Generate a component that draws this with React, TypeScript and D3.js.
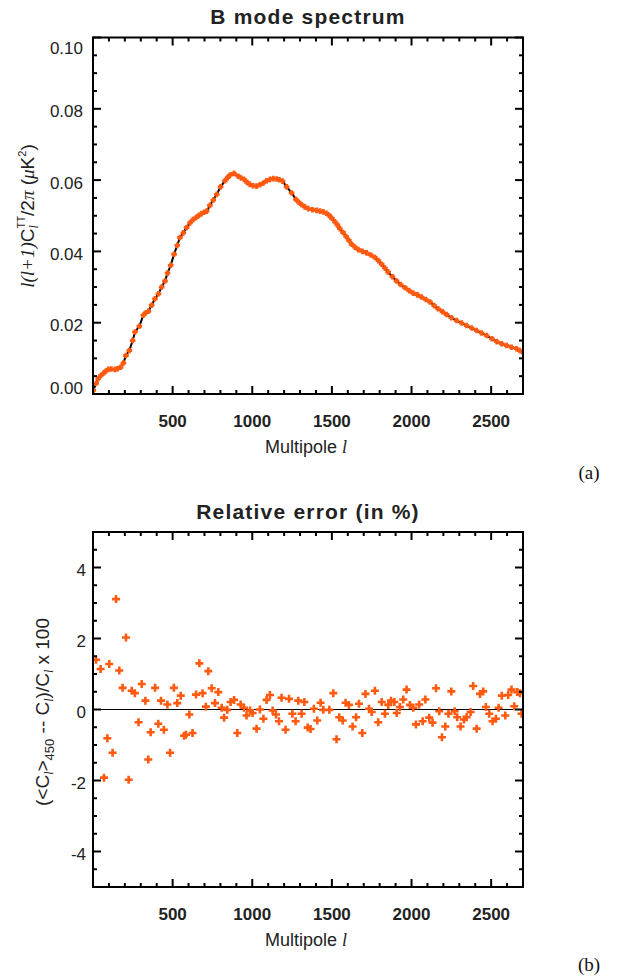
import * as d3 from 'd3'

const ORANGE = '#ff5a0f'
const SANS = 'Liberation Sans, Arial, sans-serif'
const SERIF = 'Liberation Serif, Times New Roman, serif'

// B mode spectrum, multipole l and l(l+1)C_l/2pi in uK^2
const specL = [
  2, 20, 33, 50, 65, 80, 96, 115, 138, 155, 173, 191, 207, 228, 249, 264, 291, 316, 332, 348,
  368, 389, 411, 431, 452, 468, 488, 509, 529, 546, 567, 588, 609, 628, 647, 665, 682, 698, 714,
  734, 755, 777, 801, 828, 845, 860, 885, 912, 930, 948, 967, 985, 1005, 1027, 1048, 1070, 1090,
  1111, 1132, 1153, 1170, 1190, 1216, 1247, 1274, 1292, 1310, 1330, 1351, 1378, 1404, 1425, 1446,
  1465, 1483, 1500, 1519, 1535, 1550, 1570, 1589, 1607, 1624, 1645, 1666, 1692, 1718, 1744, 1770,
  1792, 1813, 1833, 1853, 1880, 1906, 1932, 1959, 1985, 2010, 2037, 2063, 2090, 2116, 2142, 2167,
  2194, 2220, 2250, 2283, 2315, 2346, 2378, 2409, 2440, 2472, 2505, 2535, 2566, 2597, 2628, 2659,
  2680, 2700,
]
const specV = [
  0.001, 0.003, 0.0043, 0.0052, 0.0058, 0.0064, 0.0069, 0.007, 0.0069, 0.0071, 0.0075, 0.0087,
  0.0108, 0.0122, 0.015, 0.0174, 0.019, 0.0221, 0.0228, 0.0232, 0.0249, 0.0267, 0.0281, 0.03,
  0.0317, 0.0339, 0.0361, 0.0392, 0.0417, 0.0439, 0.0452, 0.0467, 0.048, 0.0489, 0.0495, 0.0501,
  0.0506, 0.051, 0.0513, 0.0529, 0.0544, 0.056, 0.0581, 0.0598, 0.0607, 0.0614, 0.0619, 0.0611,
  0.0606, 0.0602, 0.0594, 0.0588, 0.0584, 0.0583, 0.0587, 0.0592, 0.0598, 0.0602, 0.0604, 0.0603,
  0.0601, 0.0597, 0.0581, 0.0564, 0.0546, 0.0538, 0.0531, 0.0525, 0.052, 0.0517, 0.0515, 0.0513,
  0.0511, 0.0507, 0.0501, 0.0493, 0.0483, 0.0474, 0.0464, 0.0453, 0.0442, 0.0431, 0.042, 0.0412,
  0.0405, 0.04, 0.0396, 0.039, 0.0383, 0.0374, 0.0364, 0.0353, 0.0342, 0.0329, 0.0317, 0.0307,
  0.0298, 0.029, 0.0283, 0.0278, 0.0272, 0.0265, 0.0258, 0.0248, 0.0239, 0.0231, 0.0223, 0.0214,
  0.0206, 0.0199, 0.0192, 0.0185, 0.0178, 0.0171, 0.0164, 0.0155, 0.0147, 0.0141, 0.0136, 0.0131,
  0.0127, 0.0122, 0.0117,
]

// relative error (in %)
const errL = [
  19, 48, 69, 90, 102, 123, 145, 165, 186, 207, 224, 243, 263, 286, 306, 329, 347, 362, 390, 410,
  427, 445, 467, 484, 508, 529, 551, 572, 584, 605, 625, 647, 668, 688, 709, 724, 745, 766, 787,
  808, 823, 843, 864, 886, 906, 927, 948, 964, 986, 1002, 1027, 1048, 1070, 1090, 1111, 1128,
  1149, 1168, 1184, 1209, 1231, 1252, 1272, 1289, 1310, 1327, 1348, 1366, 1387, 1408, 1429, 1446,
  1484, 1509, 1529, 1546, 1568, 1586, 1607, 1630, 1652, 1670, 1691, 1711, 1733, 1750, 1770, 1791,
  1813, 1833, 1854, 1871, 1892, 1907, 1927, 1948, 1969, 1990, 2011, 2028, 2048, 2070, 2087, 2111,
  2132, 2154, 2174, 2191, 2212, 2232, 2250, 2271, 2287, 2308, 2329, 2346, 2371, 2387, 2409, 2430,
  2450, 2467, 2488, 2509, 2530, 2547, 2567, 2589, 2607, 2628, 2645, 2664, 2681, 2691,
]
const errV = [
  1.4, 1.14, -1.92, -0.81, 1.28, -1.22, 3.11, 1.1, 0.61, 2.03, -1.98, 0.53, 0.46, -0.36, 0.72,
  0.25, -1.41, -0.64, 0.61, -0.4, 0.25, -0.57, 0.14, -1.22, 0.61, 0.18, 0.39, -0.74, -0.71, -0.14,
  -0.66, 0.42, 1.3, 0.46, 0.08, 1.08, 0.6, 0.18, 0.49, 0.05, -0.23, -0.01, 0.21, 0.27, -0.66,
  0.14, 0.05, -0.17, -0.03, -0.1, -0.54, 0.0, -0.26, 0.27, 0.41, -0.03, -0.14, -0.33, 0.33, -0.57,
  0.3, -0.12, -0.33, 0.25, -0.12, 0.21, -0.51, -0.55, 0.02, -0.31, 0.19, -0.01, -0.01, 0.46, -0.84,
  -0.22, -0.31, 0.19, 0.13, -0.48, -0.22, 0.16, -0.66, 0.44, 0.02, -0.07, 0.53, -0.36, 0.21, -0.12,
  0.13, 0.25, 0.21, -0.1, 0.07, 0.28, 0.56, 0.13, 0.05, -0.42, 0.14, -0.33, 0.28, -0.23, -0.37,
  0.6, -0.05, -0.78, -0.48, -0.12, 0.51, -0.05, -0.22, -0.48, -0.28, -0.22, -0.07, 0.66, -0.54,
  0.44, 0.51, 0.07, -0.12, -0.33, -0.26, 0.05, 0.39, -0.17, 0.41, 0.56, 0.09, 0.49, 0.46, -0.12,
]

const xTickLabels = [500, 1000, 1500, 2000, 2500]
const specYTicks = [0, 0.02, 0.04, 0.06, 0.08, 0.1]
const errYTicks = [-4, -2, 0, 2, 4]

const plotLeft = 93
const plotRight = 523

const plus = (cx: number, cy: number, a: number) =>
  `M${cx - a},${cy}h${2 * a}M${cx},${cy - a}v${2 * a}`

type PanelProps = {
  id: string
  top: number
  bottom: number
  yDomain: [number, number]
  yTicks: number[]
  yMinor: number
  yFormat: (v: number) => string
  yLabelX: number
  title: string
  children: (x: d3.ScaleLinear<number, number>, y: d3.ScaleLinear<number, number>) => any
}

function Panel({ id, top, bottom, yDomain, yTicks, yMinor, yFormat, yLabelX, title, children }: PanelProps) {
  const x = d3.scaleLinear([0, 2700], [plotLeft, plotRight])
  const y = d3.scaleLinear(yDomain, [bottom, top])
  const xMinor = x.ticks(27)
  const yMinorTicks = y.ticks(yMinor)
  const major = 8
  const minor = 4
  return (
    <g>
      <defs>
        <clipPath id={id}>
          <rect x={plotLeft} y={top} width={plotRight - plotLeft} height={bottom - top} />
        </clipPath>
      </defs>
      <text x={308} y={top - 13.5} textAnchor="middle" fontFamily={SANS} fontWeight="bold"
        fontSize={21} letterSpacing={1.2} fill="#222">
        {title}
      </text>
      <g clipPath={`url(#${id})`}>{children(x, y)}</g>
      <g stroke="#000" strokeWidth={2}>
        {xMinor.map((t) => {
          const len = xTickLabels.includes(t) ? major : minor
          return (
            <g key={'x' + t}>
              <line x1={x(t)} x2={x(t)} y1={bottom} y2={bottom - len} />
              <line x1={x(t)} x2={x(t)} y1={top} y2={top + len} />
            </g>
          )
        })}
        {yMinorTicks.map((t) => {
          const len = yTicks.some((m) => Math.abs(m - t) < 1e-9) ? major : minor
          return (
            <g key={'y' + t}>
              <line x1={plotLeft} x2={plotLeft + len} y1={y(t)} y2={y(t)} />
              <line x1={plotRight} x2={plotRight - len} y1={y(t)} y2={y(t)} />
            </g>
          )
        })}
        <rect x={plotLeft} y={top} width={plotRight - plotLeft} height={bottom - top} fill="none" />
      </g>
      <g fontFamily={SANS} fill="#222">
        {yTicks.map((t) => {
          const c = Math.min(Math.max(y(t) + 2.5, top + 10.5), bottom - 6)
          return (
            <text key={t} x={yLabelX} y={c + 6} textAnchor="end" fontSize={17}>
              {yFormat(t)}
            </text>
          )
        })}
        {xTickLabels.map((t) => (
          <text key={t} x={x(t)} y={bottom + 33} textAnchor="middle" fontSize={17} fontWeight="bold">
            {t}
          </text>
        ))}
        <text x={306} y={bottom + 59} textAnchor="middle" fontSize={18}>
          Multipole{' '}
          <tspan fontFamily={SERIF} fontStyle="italic">l</tspan>
        </text>
      </g>
    </g>
  )
}

export default function App() {
  const line = (x: d3.ScaleLinear<number, number>, y: d3.ScaleLinear<number, number>) =>
    d3.line<number>((_, i) => x(specL[i]), (d) => y(d))(specV) ?? ''

  return (
    <svg width={621} height={978} style={{ position: 'absolute', left: 0, top: 0, background: '#fff' }}>
      <Panel
        id="clipA"
        top={37.5}
        bottom={394}
        yDomain={[0, 0.1]}
        yTicks={specYTicks}
        yMinor={20}
        yFormat={(v) => v.toFixed(2)}
        yLabelX={83}
        title="B mode spectrum"
      >
        {(x, y) => (
          <g>
            <path d={line(x, y)} fill="none" stroke="#000" strokeWidth={2} />
            <path
              d={specV.map((v, i) => plus(x(specL[i]), y(v), 2.8)).join('')}
              fill="none"
              stroke={ORANGE}
              strokeWidth={2.8}
            />
          </g>
        )}
      </Panel>
      <Panel
        id="clipB"
        top={532}
        bottom={887}
        yDomain={[-5, 5]}
        yTicks={errYTicks}
        yMinor={20}
        yFormat={(v) => String(v)}
        yLabelX={86}
        title="Relative error (in %)"
      >
        {(x, y) => (
          <g>
            <line x1={plotLeft} x2={plotRight} y1={y(0)} y2={y(0)} stroke="#000" strokeWidth={1.2} />
            <path
              d={errV.map((v, i) => plus(x(errL[i]), y(v), 4)).join('')}
              fill="none"
              stroke={ORANGE}
              strokeWidth={2.6}
            />
          </g>
        )}
      </Panel>

      <text transform="translate(34,216) rotate(-90)" textAnchor="middle" fontFamily={SANS} fontSize={19} fill="#222">
        <tspan fontFamily={SERIF} fontStyle="italic">l(l+1)</tspan>
        <tspan>C</tspan>
        <tspan fontFamily={SERIF} fontStyle="italic" fontSize={12} dy={4}>l</tspan>
        <tspan fontSize={10} dx={-3} dy={-13}>TT</tspan>
        <tspan dy={9}>/2</tspan>
        <tspan fontFamily={SERIF} fontStyle="italic">π</tspan>
        <tspan> (</tspan>
        <tspan fontFamily={SERIF} fontStyle="italic">μ</tspan>
        <tspan>K</tspan>
        <tspan fontSize={11} dy={-8}>2</tspan>
        <tspan dy={8}>)</tspan>
      </text>

      <text transform="translate(49,712) rotate(-90)" textAnchor="middle" fontFamily={SANS} fontSize={19} fill="#222">
        <tspan>(&lt;C</tspan>
        <tspan fontFamily={SERIF} fontStyle="italic" fontSize={12} dy={4}>l</tspan>
        <tspan dy={-4}>&gt;</tspan>
        <tspan fontSize={13} dy={5}>450</tspan>
        <tspan dy={-5}> -- C</tspan>
        <tspan fontFamily={SERIF} fontStyle="italic" fontSize={12} dy={4}>l</tspan>
        <tspan dy={-4}>)/C</tspan>
        <tspan fontFamily={SERIF} fontStyle="italic" fontSize={12} dy={4}>l</tspan>
        <tspan dy={-4}> x 100</tspan>
      </text>

      <text x={589} y={479} textAnchor="middle" fontFamily={SERIF} fontSize={19} fill="#111">(a)</text>
      <text x={589} y={971} textAnchor="middle" fontFamily={SERIF} fontSize={19} fill="#111">(b)</text>
    </svg>
  )
}
